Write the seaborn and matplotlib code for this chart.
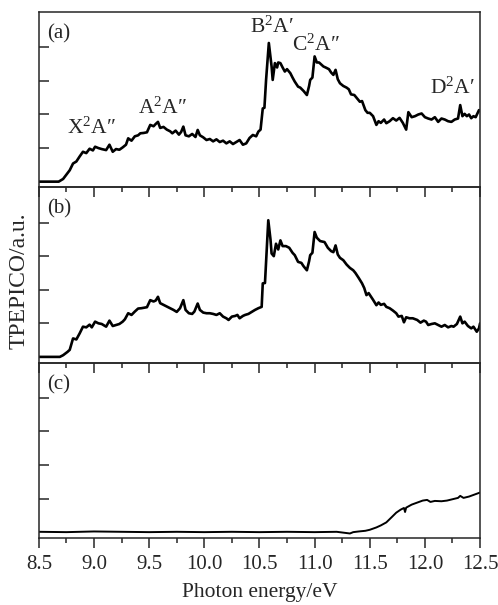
import numpy as np
import pandas as pd
import matplotlib
matplotlib.use("Agg")
import matplotlib.pyplot as plt
import seaborn as sns
from matplotlib.ticker import MultipleLocator

# --- data (energy in eV, signal in tick units) ---
energy_a = [8.50, 8.60, 8.68, 8.72, 8.76, 8.78, 8.81, 8.84, 8.87, 8.90, 8.93, 8.96, 8.99, 9.01, 9.04,
            9.07, 9.11, 9.14, 9.17, 9.20, 9.23, 9.26, 9.29, 9.31, 9.34, 9.37, 9.40, 9.42, 9.45, 9.48,
            9.51, 9.54, 9.56, 9.58, 9.60, 9.63, 9.66, 9.69, 9.71, 9.74, 9.77, 9.79, 9.81, 9.83, 9.86,
            9.89, 9.92, 9.94, 9.96, 9.99, 10.02, 10.05, 10.08, 10.11, 10.14, 10.17, 10.20, 10.23, 10.26,
            10.29, 10.32, 10.35, 10.38, 10.41, 10.44, 10.47, 10.49, 10.51, 10.53, 10.545, 10.56, 10.585,
            10.60, 10.61, 10.62, 10.64, 10.66, 10.67, 10.69, 10.71, 10.73, 10.75, 10.78, 10.80, 10.82,
            10.85, 10.87, 10.90, 10.93, 10.95, 10.96, 10.98, 11.00, 11.02, 11.04, 11.08, 11.10, 11.13,
            11.15, 11.17, 11.19, 11.21, 11.23, 11.26, 11.29, 11.31, 11.33, 11.36, 11.38, 11.41, 11.43,
            11.46, 11.48, 11.50, 11.53, 11.56, 11.58, 11.60, 11.63, 11.65, 11.68, 11.71, 11.74, 11.77,
            11.80, 11.83, 11.85, 11.88, 11.91, 11.94, 11.97, 12.00, 12.03, 12.06, 12.09, 12.12, 12.15,
            12.18, 12.21, 12.24, 12.27, 12.30, 12.32, 12.34, 12.36, 12.38, 12.40, 12.42, 12.44, 12.46,
            12.49, 12.50]
signal_a = [0.0, 0.0, 0.0, 0.08, 0.25, 0.34, 0.54, 0.60, 0.75, 0.89, 0.85, 0.98, 0.93, 1.04, 1.00,
            0.97, 0.94, 1.10, 0.89, 0.97, 0.95, 1.02, 1.10, 1.29, 1.22, 1.35, 1.38, 1.44, 1.45, 1.47,
            1.69, 1.65, 1.72, 1.78, 1.60, 1.63, 1.55, 1.50, 1.44, 1.52, 1.40, 1.48, 1.64, 1.38, 1.35,
            1.42, 1.33, 1.54, 1.38, 1.32, 1.24, 1.27, 1.20, 1.26, 1.18, 1.22, 1.14, 1.20, 1.12,
            1.18, 1.24, 1.10, 1.14, 1.30, 1.39, 1.35, 1.49, 1.55, 2.18, 2.20, 3.03, 4.13,
            3.70, 3.43, 3.03, 3.53, 3.40, 3.55, 3.53, 3.40, 3.28, 3.35, 3.23, 3.10, 2.98,
            2.83, 2.80, 2.70, 2.58, 2.85, 3.03, 3.10, 3.73, 3.55, 3.55, 3.43, 3.40, 3.35,
            3.25, 3.18, 3.33, 3.05, 2.93, 2.85, 2.80, 2.75, 2.60, 2.58, 2.50, 2.38, 2.40,
            2.13, 2.05, 2.05, 1.95, 1.69, 1.80, 1.75, 1.85, 1.74, 1.80, 1.89, 1.82, 1.90,
            1.75, 1.55, 2.07, 1.92, 1.95, 2.00, 2.03, 1.92, 1.88, 1.85, 1.92, 1.78, 1.88,
            1.85, 1.80, 1.78, 1.85, 1.88, 2.28, 1.95, 2.02, 1.95, 2.00, 1.89, 1.95, 1.92,
            2.13, 2.10]

energy_b = [8.50, 8.60, 8.69, 8.72, 8.76, 8.78, 8.81, 8.84, 8.87, 8.90, 8.93, 8.96, 8.98, 9.01, 9.04,
            9.07, 9.11, 9.14, 9.17, 9.20, 9.23, 9.26, 9.28, 9.31, 9.34, 9.37, 9.40, 9.43, 9.46, 9.48,
            9.51, 9.54, 9.56, 9.58, 9.60, 9.63, 9.66, 9.69, 9.72, 9.75, 9.78, 9.81, 9.83, 9.86, 9.89,
            9.91, 9.94, 9.96, 9.99, 10.02, 10.05, 10.08, 10.11, 10.14, 10.17, 10.20, 10.22, 10.25,
            10.28, 10.30, 10.32, 10.35, 10.37, 10.40, 10.43, 10.46, 10.49, 10.52, 10.53, 10.55, 10.58,
            10.60, 10.61, 10.63, 10.65, 10.67, 10.69, 10.71, 10.74, 10.77, 10.80, 10.82, 10.85, 10.88,
            10.90, 10.93, 10.95, 10.96, 10.98, 11.00, 11.02, 11.05, 11.09, 11.12, 11.15, 11.17, 11.19,
            11.21, 11.23, 11.26, 11.29, 11.32, 11.35, 11.37, 11.40, 11.43, 11.45, 11.47, 11.49, 11.51,
            11.53, 11.56, 11.58, 11.60, 11.63, 11.65, 11.68, 11.71, 11.74, 11.76, 11.79, 11.81, 11.83,
            11.86, 11.89, 11.93, 11.96, 11.99, 12.01, 12.03, 12.06, 12.09, 12.12, 12.15, 12.18, 12.21,
            12.24, 12.26, 12.29, 12.32, 12.34, 12.36, 12.39, 12.42, 12.44, 12.47, 12.49, 12.50]
signal_b = [0.0, 0.0, 0.0, 0.05, 0.15, 0.21, 0.55, 0.52, 0.70, 0.90, 0.88, 0.96, 0.88, 1.05, 1.00,
            0.98, 0.90, 1.08, 0.92, 0.95, 0.98, 1.05, 1.12, 1.30, 1.25, 1.35, 1.44, 1.45, 1.47, 1.48,
            1.69, 1.65, 1.68, 1.79, 1.60, 1.55, 1.50, 1.45, 1.40, 1.34, 1.45, 1.69, 1.40, 1.30, 1.28,
            1.35, 1.59, 1.40, 1.32, 1.30, 1.30, 1.28, 1.25, 1.30, 1.20, 1.15, 1.10, 1.20,
            1.22, 1.25, 1.15, 1.22, 1.25, 1.28, 1.34, 1.40, 1.45, 1.49, 2.19, 2.20, 4.07,
            3.50, 3.08, 3.00, 3.37, 3.20, 3.47, 3.30, 3.30, 3.25, 3.10, 3.03, 2.83, 2.80,
            2.70, 2.58, 2.85, 3.03, 3.10, 3.72, 3.55, 3.45, 3.42, 3.25, 3.15, 3.12, 3.32,
            3.05, 2.95, 2.88, 2.75, 2.65, 2.58, 2.50, 2.35, 2.19, 2.05, 1.84, 1.90, 1.80,
            1.70, 1.54, 1.62, 1.55, 1.58, 1.49, 1.45, 1.38, 1.30, 1.20, 1.22, 1.03, 1.18,
            1.15, 1.15, 1.10, 1.02, 1.08, 1.05, 0.95, 0.98, 1.00, 0.95, 0.90, 0.95, 0.88,
            0.92, 0.90, 0.98, 1.20, 1.00, 1.05, 0.92, 0.85, 0.90, 0.75, 0.85, 1.00]

energy_c = [8.50, 8.75, 9.00, 9.25, 9.50, 9.75, 10.00, 10.25, 10.50, 10.75, 11.00, 11.20, 11.32, 11.35,
            11.40, 11.46, 11.50, 11.56, 11.60, 11.65, 11.70, 11.74, 11.78, 11.81, 11.82, 11.83, 11.88,
            11.93, 11.98, 12.02, 12.05, 12.09, 12.15, 12.20, 12.25, 12.30, 12.32, 12.35, 12.40, 12.45,
            12.50]
signal_c = [0.01, 0.0, 0.02, 0.01, 0.0, 0.01, 0.0, 0.01, 0.0, 0.01, 0.0, 0.01, -0.04, 0.0,
            0.02, 0.04, 0.07, 0.14, 0.20, 0.29, 0.45, 0.58, 0.67, 0.72, 0.60, 0.73, 0.82,
            0.88, 0.94, 0.96, 0.90, 0.93, 0.92, 0.94, 0.98, 1.02, 1.08, 1.02, 1.06, 1.12,
            1.18]

panel_tags = ["(a)", "(b)", "(c)"]
band_labels = ["X$^2$A\u2033", "A$^2$A\u2033", "B$^2$A\u2032", "C$^2$A\u2033", "D$^2$A\u2032"]
band_pos = [(8.98, 1.60), (9.62, 2.19), (10.61, 4.61), (11.01, 4.07), (12.25, 2.79)]

sns.set_style("ticks")
plt.rcParams["font.family"] = ["Liberation Serif", "DejaVu Serif"]
plt.rcParams["mathtext.fontset"] = "custom"
plt.rcParams["mathtext.rm"] = "Liberation Serif"
plt.rcParams["mathtext.it"] = "Liberation Serif:italic"
plt.rcParams["axes.linewidth"] = 1.1

fig, axes = plt.subplots(3, 1, figsize=(4.98, 6.05), dpi=100, sharex=True)
fig.subplots_adjust(left=0.078, right=0.964, top=0.980, bottom=0.111, hspace=0)

series = [(energy_a, signal_a, 1.9), (energy_b, signal_b, 1.9), (energy_c, signal_c, 1.4)]
for ax, (e, s, lw), tag in zip(axes, series, panel_tags):
    df = pd.DataFrame({"energy": e, "signal": s})
    ax.set_facecolor("none")
    sns.lineplot(data=df, x="energy", y="signal", ax=ax, color="black", linewidth=lw, sort=False)
    ax.set_xlim(8.5, 12.5)
    ax.set_ylim(-0.17, 5.05)
    ax.set_yticks([1, 2, 3, 4])
    ax.yaxis.set_ticklabels([])
    ax.set_ylabel("")
    ax.set_xlabel("")
    ax.xaxis.set_major_locator(MultipleLocator(0.5))
    ax.xaxis.set_minor_locator(MultipleLocator(0.25))
    ax.tick_params(axis="y", direction="in", length=7, width=1.1, left=True, right=False)
    ax.tick_params(axis="x", which="major", direction="out", length=7, width=1.1, pad=5, labelsize=15)
    ax.tick_params(axis="x", which="minor", direction="out", length=3.5, width=1.1)
    for spine in ax.spines.values():
        spine.set_visible(True)
    ax.text(0.018, 0.93, tag, transform=ax.transAxes, fontsize=15, va="top", ha="left")

for label, (x, y) in zip(band_labels, band_pos):
    axes[0].text(x, y, label, fontsize=15.5, ha="center", va="center")

axes[2].set_xlabel("Photon energy/eV", fontsize=15.5, labelpad=7)
fig.text(0.038, 1 - 281 / 605, "TPEPICO/a.u.", rotation=90, fontsize=17, ha="center", va="center")

plt.savefig("out.png", dpi=100)
plt.close(fig)
